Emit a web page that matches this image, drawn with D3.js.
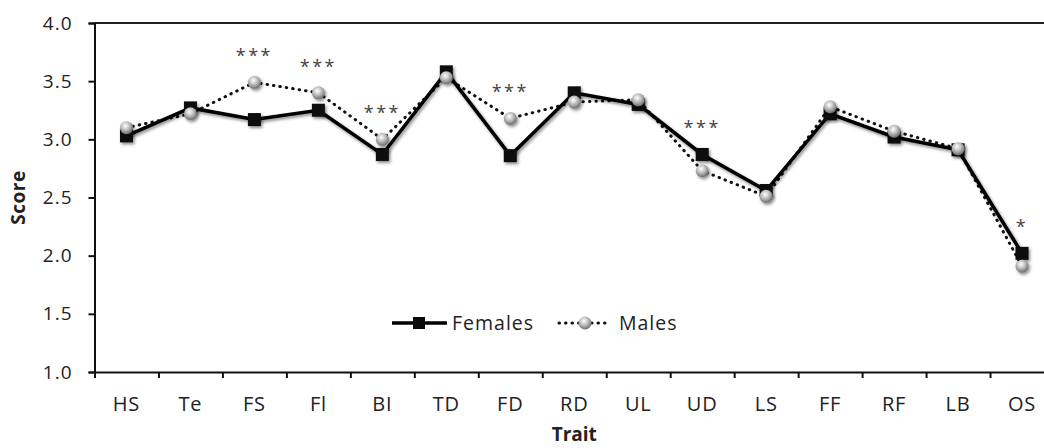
<!DOCTYPE html>
<html>
<head>
<meta charset="utf-8">
<script src="https://cdn.jsdelivr.net/npm/d3@7"></script>
<style>
  body { margin: 0; background: #fff; }
  text { font-family: "Open Sans", sans-serif; }
</style>
</head>
<body>
<svg id="chart"></svg>
<script>
const width = 1044;
const height = 448;

const traits = ["HS", "Te", "FS", "Fl", "BI", "TD", "FD", "RD", "UL", "UD", "LS", "FF", "RF", "LB", "OS"];
const females = [3.03, 3.27, 3.17, 3.25, 2.87, 3.58, 2.86, 3.40, 3.30, 2.87, 2.56, 3.22, 3.02, 2.91, 2.02];
const males = [3.10, 3.22, 3.49, 3.40, 3.00, 3.53, 3.18, 3.32, 3.34, 2.73, 2.51, 3.28, 3.07, 2.92, 1.91];
const signif = ["", "", "***", "***", "***", "", "***", "", "", "***", "", "", "", "", "*"];
const yTicks = [1.0, 1.5, 2.0, 2.5, 3.0, 3.5, 4.0];

const plotLeft = 94.5, plotRight = 1054, plotTop = 23, plotBottom = 372;

const svg = d3.select("#chart")
  .attr("width", width)
  .attr("height", height);

const defs = svg.append("defs");
const shadow = defs.append("filter").attr("id", "shadow")
  .attr("x", "-50%").attr("y", "-50%").attr("width", "200%").attr("height", "200%");
shadow.append("feDropShadow")
  .attr("dx", 1.5).attr("dy", 2).attr("stdDeviation", 1.5)
  .attr("flood-color", "#000").attr("flood-opacity", 0.45);

const grad = defs.append("radialGradient").attr("id", "ball")
  .attr("cx", "42%").attr("cy", "35%").attr("r", "65%");
grad.append("stop").attr("offset", "0%").attr("stop-color", "#ffffff");
grad.append("stop").attr("offset", "45%").attr("stop-color", "#c4c4c4");
grad.append("stop").attr("offset", "100%").attr("stop-color", "#6e6e6e");

const x = d3.scaleBand().domain(traits).range([plotLeft, plotRight]).padding(0);
const xEdge = d3.scaleLinear().domain([0, traits.length]).range([plotLeft, plotRight]);
const y = d3.scaleLinear().domain([1, 4]).range([plotBottom, plotTop]);

// top edge of plot area
svg.append("line")
  .attr("x1", plotLeft).attr("x2", plotRight)
  .attr("y1", plotTop).attr("y2", plotTop)
  .attr("stroke", "#222").attr("stroke-width", 1.8);

// y axis
const yAxis = svg.append("g")
  .attr("transform", `translate(${plotLeft},0)`)
  .call(d3.axisLeft(y).tickValues(yTicks).tickFormat(d3.format(".1f")).tickSize(6).tickPadding(16));
yAxis.select(".domain").attr("stroke", "#111").attr("stroke-width", 2);
yAxis.selectAll(".tick line").attr("stroke", "#111").attr("stroke-width", 2);
yAxis.selectAll(".tick text")
  .attr("font-size", 19).attr("fill", "#222").attr("letter-spacing", 1)
  .attr("font-family", "Open Sans, sans-serif");

// x axis: ticks between categories, labels at centres
const xTicks = svg.append("g")
  .attr("transform", `translate(0,${plotBottom})`)
  .call(d3.axisBottom(xEdge).tickValues(d3.range(traits.length + 1)).tickFormat("").tickSize(6).tickSizeOuter(0));
xTicks.select(".domain").attr("stroke", "#111").attr("stroke-width", 2);
xTicks.selectAll(".tick line").attr("stroke", "#111").attr("stroke-width", 2);

const xLabels = svg.append("g")
  .attr("transform", `translate(0,${plotBottom})`)
  .call(d3.axisBottom(x).tickSize(0).tickPadding(25));
xLabels.select(".domain").remove();
xLabels.selectAll(".tick text")
  .attr("font-size", 20).attr("fill", "#222").attr("letter-spacing", 0.8)
  .attr("font-family", "Open Sans, sans-serif");

// axis titles
svg.append("text")
  .attr("x", (plotLeft + plotRight) / 2).attr("y", 441)
  .attr("text-anchor", "middle")
  .attr("font-size", 19).attr("font-weight", "bold").attr("fill", "#222")
  .text("Trait");

svg.append("text")
  .attr("transform", `translate(25,${(plotTop + plotBottom) / 2}) rotate(-90)`)
  .attr("text-anchor", "middle")
  .attr("font-size", 19).attr("font-weight", "bold").attr("fill", "#222")
  .attr("letter-spacing", 0.5)
  .text("Score");

const cx = (d, i) => x(traits[i]) + x.bandwidth() / 2;

const lineGen = d3.line().x((d, i) => cx(d, i)).y(d => y(d));

// males dotted line
svg.append("path")
  .datum(males)
  .attr("d", lineGen)
  .attr("fill", "none")
  .attr("stroke", "#111")
  .attr("stroke-width", 3)
  .attr("stroke-linecap", "round")
  .attr("stroke-dasharray", "0.5,6");

// females solid line
svg.append("path")
  .datum(females)
  .attr("d", lineGen)
  .attr("fill", "none")
  .attr("stroke", "#000")
  .attr("stroke-width", 3.5)
  .attr("filter", "url(#shadow)");

// female markers
svg.selectAll(".fem")
  .data(females)
  .enter()
  .append("rect")
  .attr("class", "fem")
  .attr("x", (d, i) => cx(d, i) - 6.5)
  .attr("y", d => y(d) - 6.5)
  .attr("width", 13).attr("height", 13)
  .attr("fill", "#0a0a0a")
  .attr("filter", "url(#shadow)");

// male markers
svg.selectAll(".male")
  .data(males)
  .enter()
  .append("circle")
  .attr("class", "male")
  .attr("cx", (d, i) => cx(d, i))
  .attr("cy", d => y(d))
  .attr("r", 6.5)
  .attr("fill", "url(#ball)")
  .attr("filter", "url(#shadow)");

// significance stars
svg.selectAll(".sig")
  .data(signif)
  .enter()
  .append("text")
  .attr("class", "sig")
  .attr("x", (d, i) => cx(d, i))
  .attr("y", (d, i) => y(Math.max(females[i], males[i])) - 20)
  .attr("text-anchor", "middle")
  .attr("font-size", 18)
  .attr("letter-spacing", 2.5)
  .attr("fill", "#444")
  .text(d => d);

// legend
const legY = 323;
const leg = svg.append("g");
leg.append("line")
  .attr("x1", 392).attr("x2", 447).attr("y1", legY).attr("y2", legY)
  .attr("stroke", "#000").attr("stroke-width", 3.5);
leg.append("rect")
  .attr("x", 413).attr("y", legY - 6).attr("width", 12).attr("height", 12)
  .attr("fill", "#0a0a0a");
leg.append("text")
  .attr("x", 452).attr("y", legY + 7)
  .attr("font-size", 19.5).attr("letter-spacing", 1).attr("fill", "#222")
  .text("Females");
leg.append("line")
  .attr("x1", 559).attr("x2", 606).attr("y1", legY).attr("y2", legY)
  .attr("stroke", "#111").attr("stroke-width", 3)
  .attr("stroke-linecap", "round").attr("stroke-dasharray", "0.5,6");
leg.append("circle")
  .attr("cx", 585).attr("cy", legY).attr("r", 6.5)
  .attr("fill", "url(#ball)");
leg.append("text")
  .attr("x", 619).attr("y", legY + 7)
  .attr("font-size", 19.5).attr("letter-spacing", 1).attr("fill", "#222")
  .text("Males");
</script>
</body>
</html>
